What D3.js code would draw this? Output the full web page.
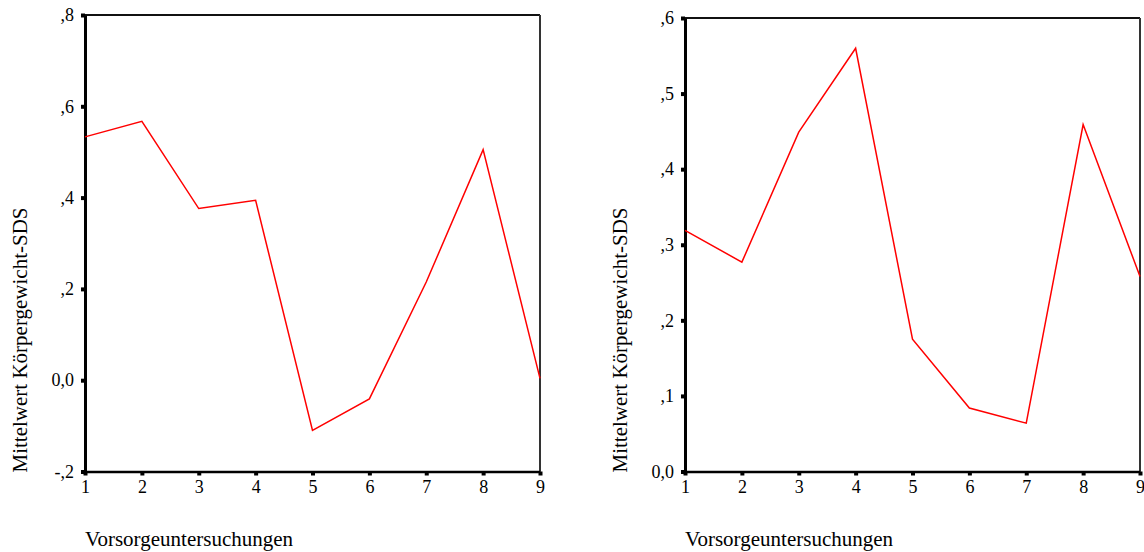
<!DOCTYPE html>
<html>
<head>
<meta charset="utf-8">
<script src="https://cdn.jsdelivr.net/npm/d3@7"></script>
<style>
  html, body { margin: 0; padding: 0; background: #fff; }
  svg { display: block; }
  text { font-family: "Liberation Serif", "Times New Roman", serif; fill: #000; }
</style>
</head>
<body>
<svg id="chart" width="1144" height="552"></svg>
<script>
// Vorsorgeuntersuchungen U1..U9
const visits = [1, 2, 3, 4, 5, 6, 7, 8, 9];

// Mean body-weight SDS per check-up, two groups
const meanSdsA = [0.533, 0.567, 0.376, 0.394, -0.110, -0.041, 0.215, 0.505, 0.004];
const meanSdsB = [0.319, 0.277, 0.449, 0.560, 0.175, 0.084, 0.064, 0.459, 0.258];

// Axis tick values and their German labels
const yTicksA = [-0.2, 0.0, 0.2, 0.4, 0.6, 0.8];
const yTickLabelsA = ["-,2", "0,0", ",2", ",4", ",6", ",8"];
const yTicksB = [0.0, 0.1, 0.2, 0.3, 0.4, 0.5, 0.6];
const yTickLabelsB = ["0,0", ",1", ",2", ",3", ",4", ",5", ",6"];

const yTitle = "Mittelwert Körpergewicht-SDS";
const xTitle = "Vorsorgeuntersuchungen";

const FONT = "'Liberation Serif', 'Times New Roman', serif";
const svg = d3.select("#chart");

function panel(cfg) {
  const x = d3.scaleLinear().domain([1, 9]).range([cfg.left, cfg.right]);
  const y = d3.scaleLinear().domain(cfg.yDomain).range([cfg.bottom, cfg.top]);
  const g = svg.append("g");

  // frame: top and right edges
  g.append("line").attr("x1", cfg.left).attr("x2", cfg.right)
    .attr("y1", cfg.top).attr("y2", cfg.top)
    .attr("stroke", "#111").attr("stroke-width", 2);
  g.append("line").attr("x1", cfg.right).attr("x2", cfg.right)
    .attr("y1", cfg.top).attr("y2", cfg.bottom)
    .attr("stroke", "#333").attr("stroke-width", 2);

  // y axis
  const yAxis = d3.axisLeft(y).tickValues(cfg.yTicks)
    .tickFormat((d, i) => cfg.yLabels[i]).tickSize(0).tickPadding(11);
  const ya = g.append("g").attr("transform", `translate(${cfg.left},0)`).call(yAxis);
  ya.attr("font-size", null).attr("font-family", null);
  ya.select(".domain").attr("stroke", "#000").attr("stroke-width", 3);
  ya.selectAll(".tick text").style("font-size", "18px")
    .style("font-family", FONT).attr("fill", "#000");
  ya.selectAll(".tick").append("rect")
    .attr("x", -4).attr("y", -2).attr("width", 4).attr("height", 4).attr("fill", "#000");

  // x axis
  const xAxis = d3.axisBottom(x).tickValues(visits)
    .tickFormat(d3.format("d")).tickSize(0).tickPadding(9);
  const xa = g.append("g").attr("transform", `translate(0,${cfg.bottom})`).call(xAxis);
  xa.attr("font-size", null).attr("font-family", null);
  xa.select(".domain").attr("stroke", "#000").attr("stroke-width", 2.5);
  xa.selectAll(".tick text").style("font-size", "18px")
    .style("font-family", FONT).attr("fill", "#000");
  xa.selectAll(".tick").append("rect")
    .attr("x", -2).attr("y", 0).attr("width", 4).attr("height", 4).attr("fill", "#000");

  // mean line
  const line = d3.line().x((d, i) => x(visits[i])).y(d => y(d));
  g.append("path").datum(cfg.values)
    .attr("d", line).attr("fill", "none")
    .attr("stroke", "#ff0000").attr("stroke-width", 1.5);

  // titles
  g.append("text")
    .attr("transform", `translate(${cfg.left - 58},340) rotate(-90)`)
    .attr("text-anchor", "middle").style("font-size", "21px").text(yTitle);
  g.append("text").attr("x", cfg.left).attr("y", 546)
    .style("font-size", "21px").text(xTitle);
}

panel({ left: 85, right: 540, top: 15, bottom: 471.5,
        yDomain: [-0.2, 0.8], yTicks: yTicksA, yLabels: yTickLabelsA, values: meanSdsA });
panel({ left: 685, right: 1140, top: 18, bottom: 471.5,
        yDomain: [0, 0.6], yTicks: yTicksB, yLabels: yTickLabelsB, values: meanSdsB });
</script>
</body>
</html>
